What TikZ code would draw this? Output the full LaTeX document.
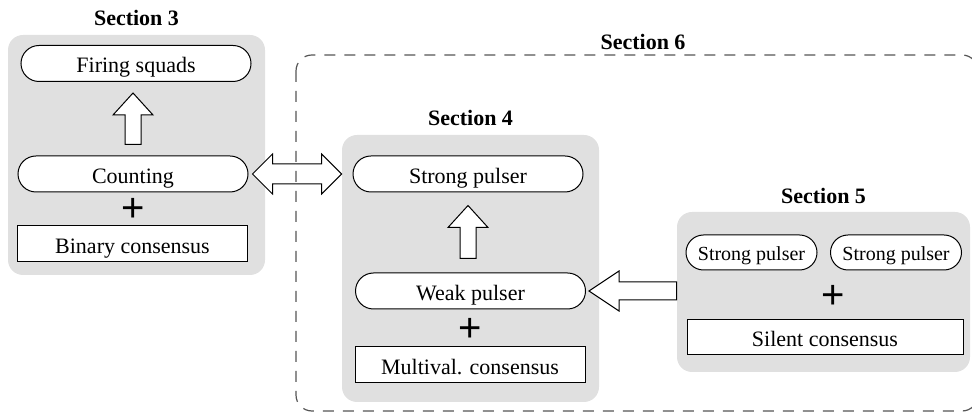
\documentclass[tikz,border=0pt]{standalone}
\usepackage{fontspec}
\setmainfont{Liberation Serif}
\newfontfamily\plusfont{Liberation Sans}
\usetikzlibrary{calc,shapes.misc,positioning}
\definecolor{secgray}{RGB}{224,224,224}
\definecolor{dashgray}{RGB}{85,85,85}

% #1 shaft half width, #2 head length, #3 tail, #4 tip
\newcommand{\fatarrow}[4][4.5pt]{%
  \path #3 coordinate (fa-t) #4 coordinate (fa-p);
  \path ($(fa-p)!#2!(fa-t)$) coordinate (fa-h);
  \draw[line width=0.5pt, fill=white] (fa-t) -- ($(fa-t)!#1!90:(fa-p)$) -- ($(fa-h)!#1!90:(fa-p)$)
    -- ($(fa-h)!10pt!90:(fa-p)$) -- (fa-p) -- ($(fa-h)!10pt!-90:(fa-p)$)
    -- ($(fa-h)!#1!-90:(fa-p)$) -- ($(fa-t)!#1!-90:(fa-p)$) -- cycle;
}
\newcommand{\twinarrow}[2]{%
  \path #1 coordinate (ta-t) #2 coordinate (ta-p);
  \path ($(ta-t)!10pt!(ta-p)$) coordinate (ta-a) ($(ta-p)!10pt!(ta-t)$) coordinate (ta-b);
  \draw[line width=0.5pt, fill=white] (ta-t) -- ($(ta-a)!10pt!90:(ta-p)$) -- ($(ta-a)!5pt!90:(ta-p)$)
    -- ($(ta-b)!5pt!90:(ta-p)$) -- ($(ta-b)!10pt!90:(ta-p)$) -- (ta-p)
    -- ($(ta-b)!10pt!-90:(ta-p)$) -- ($(ta-b)!5pt!-90:(ta-p)$) -- ($(ta-a)!5pt!-90:(ta-p)$)
    -- ($(ta-a)!10pt!-90:(ta-p)$) -- cycle;
}

\begin{document}
\fontsize{11}{13}\selectfont
\begin{tikzpicture}[x=0.5pt, y=-0.5pt,
    sec/.style = {fill=secgray, rounded corners=7.5pt, inner sep=0pt},
    pill/.style = {draw, line width=0.5pt, rounded rectangle, fill=white, inner sep=0pt, text height=9.5pt, text depth=0pt, minimum width=115pt, minimum height=18pt},
    small/.style = {pill, text height=8pt, minimum width=65.5pt, minimum height=17.5pt, font=\fontsize{10}{12}\selectfont},
    block/.style = {draw, line width=0.5pt, rectangle, fill=white, inner sep=0pt, text height=9.5pt, text depth=0pt, minimum width=115pt, minimum height=18pt},
    title/.style = {font=\fontsize{11}{13}\selectfont\bfseries},
    plus/.style = {inner sep=0pt, font=\plusfont\fontsize{20}{20}\selectfont}]
    \useasboundingbox (0,0) rectangle (972,415);

    \node[sec, minimum width=128.5pt, minimum height=120pt] (sec3) at (136.5,155) {};
    \node[sec, minimum width=128.5pt, minimum height=133.5pt] (sec4) at (470.5,268.5) {};
    \node[sec, minimum width=146.5pt, minimum height=80pt] (sec5) at (823.5,292) {};
    \node[title, above=0.5pt of sec3] (title3) {Section 3};
    \node[title, above=0.5pt of sec4] (title4) {Section 4};
    \node[title, above=0pt of sec5] (title5) {Section 5};
    \node[title] (title6) at (643,42) {Section 6};

    \node[pill] (firing) at (136,63.5) {Firing squads};
    \node[pill] (counting) at (133,174) {Counting};
    \node[plus] (plus3) at (133,210) {+};
    \node[block] (binary) at (132.5,244) {Binary consensus};

    \node[pill] (strong) at (468,174) {Strong pulser};
    \node[pill] (weak) at (470.5,291) {Weak pulser};
    \node[plus] (plus4) at (470,330) {+};
    \node[block] (multival) at (470,365) {Multival. consensus};

    \node[small] (strong1) at (751.5,252.5) {Strong pulser};
    \node[small] (strong2) at (896,252.5) {Strong pulser};
    \node[plus] (plus5) at (833,297) {+};
    \node[block, minimum width=138pt, minimum height=17.5pt] (silent) at (825,337.5) {Silent consensus};

    \fatarrow[4pt]{11pt}{($(counting.north)+(0,5.5pt)$)}{($(counting.north |- firing.south)+(0,-5.5pt)$)}
    \fatarrow[4pt]{11pt}{($(strong.south |- weak.north)+(0,7pt)$)}{($(strong.south)+(0,-6.5pt)$)}
    \fatarrow[4.5pt]{15pt}{(weak.east -| sec5.west)}{($(weak.east)+(1.5pt,0)$)}
    \twinarrow{($(counting.east)+(2pt,0)$)}{(counting.east -| sec4.west)}

    \draw[dashgray, line width=0.6pt, dash pattern=on 5.5pt off 4.5pt, rounded corners=8pt] (296,55) rectangle (978,411);
\end{tikzpicture}
\end{document}
